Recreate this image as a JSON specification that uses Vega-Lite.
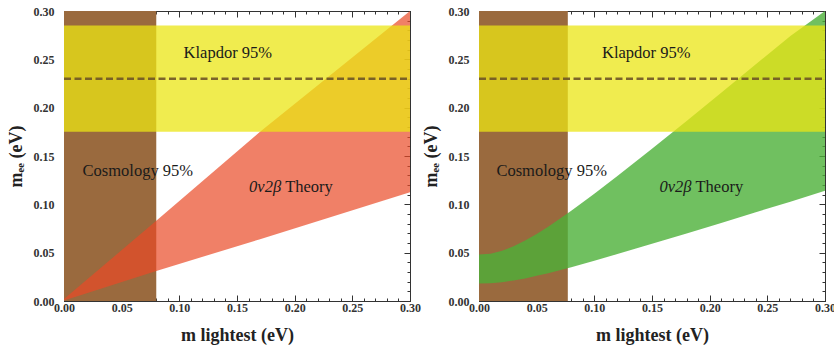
{
  "$schema": "https://vega.github.io/schema/vega-lite/v6.json",
  "padding": {"left": 6, "top": 4, "right": 0, "bottom": 4},
  "background": "white",
  "config": {
    "view": {"stroke": "#333", "strokeWidth": 1},
    "concat": {"spacing": 0},
    "axis": {"grid": false, "labelFlush": false, "labelFont": "Liberation Serif", "labelFontWeight": "bold", "labelFontSize": 12, "labelColor": "#333", "domainColor": "#333", "tickColor": "#333", "titleFont": "Liberation Serif", "titleFontWeight": "bold", "titleFontSize": 18, "titleColor": "#222"}
  },
  "datasets": {
    "cosmology": [
      {"panel": "normal", "x0": 0, "x1": 0.08, "y0": 0, "y1": 0.3},
      {"panel": "inverted", "x0": 0, "x1": 0.077, "y0": 0, "y1": 0.3}
    ],
    "klapdor": [
      {"panel": "normal", "x0": 0, "x1": 0.3, "y0": 0.175, "y1": 0.285, "best": 0.23},
      {"panel": "inverted", "x0": 0, "x1": 0.3, "y0": 0.175, "y1": 0.285, "best": 0.23}
    ],
    "theory": [
      {"panel": "normal", "x": 0, "lo": 0.0005, "hi": 0.002},
      {"panel": "normal", "x": 0.08, "lo": 0.031, "hi": 0.083},
      {"panel": "normal", "x": 0.17, "lo": 0.064, "hi": 0.175},
      {"panel": "normal", "x": 0.3, "lo": 0.1125, "hi": 0.3},
      {"panel": "inverted", "x": 0, "lo": 0.018, "hi": 0.048},
      {"panel": "inverted", "x": 0.01, "lo": 0.0184, "hi": 0.049},
      {"panel": "inverted", "x": 0.02, "lo": 0.0195, "hi": 0.052},
      {"panel": "inverted", "x": 0.03, "lo": 0.0212, "hi": 0.0566},
      {"panel": "inverted", "x": 0.04, "lo": 0.0234, "hi": 0.0625},
      {"panel": "inverted", "x": 0.05, "lo": 0.026, "hi": 0.0693},
      {"panel": "inverted", "x": 0.06, "lo": 0.0288, "hi": 0.0768},
      {"panel": "inverted", "x": 0.08, "lo": 0.035, "hi": 0.0933},
      {"panel": "inverted", "x": 0.1, "lo": 0.0416, "hi": 0.1109},
      {"panel": "inverted", "x": 0.12, "lo": 0.0485, "hi": 0.1292},
      {"panel": "inverted", "x": 0.15, "lo": 0.0591, "hi": 0.1575},
      {"panel": "inverted", "x": 0.18, "lo": 0.0699, "hi": 0.1863},
      {"panel": "inverted", "x": 0.21, "lo": 0.0808, "hi": 0.2154},
      {"panel": "inverted", "x": 0.24, "lo": 0.0918, "hi": 0.2448},
      {"panel": "inverted", "x": 0.27, "lo": 0.1028, "hi": 0.2742},
      {"panel": "inverted", "x": 0.3, "lo": 0.114, "hi": 0.3}
    ],
    "labels": [
      {"panel": "normal", "label": "Klapdor 95%", "x": 0.142, "y": 0.257},
      {"panel": "normal", "label": "Cosmology 95%", "x": 0.064, "y": 0.135},
      {"panel": "normal", "label": "0ν2β", "x": 0.19, "y": 0.118},
      {"panel": "normal", "label": "Theory", "x": 0.19, "y": 0.118},
      {"panel": "inverted", "label": "Klapdor 95%", "x": 0.145, "y": 0.257},
      {"panel": "inverted", "label": "Cosmology 95%", "x": 0.063, "y": 0.134},
      {"panel": "inverted", "label": "0ν2β", "x": 0.186, "y": 0.118},
      {"panel": "inverted", "label": "Theory", "x": 0.186, "y": 0.118}
    ]
  },
  "hconcat": [
    {
      "width": 346, "height": 290,
      "resolve": {"axis": {"x": "independent", "y": "independent"}},
      "layer": [
        {
          "data": {"name": "cosmology"},
          "transform": [{"filter": "datum.panel == 'normal'"}],
          "mark": {"type": "rect", "color": "#9a6a3e", "clip": true},
          "encoding": {
            "x": {"field": "x0", "type": "quantitative", "scale": {"domain": [0, 0.3], "nice": false, "zero": false},
              "axis": {"orient": "bottom", "values": [0, 0.05, 0.1, 0.15, 0.2, 0.25, 0.3], "format": ".2f", "tickSize": -6, "labelPadding": 7, "title": "m lightest (eV)", "titlePadding": 13}},
            "x2": {"field": "x1"},
            "y": {"field": "y0", "type": "quantitative", "scale": {"domain": [0, 0.3], "nice": false, "zero": false},
              "axis": {"orient": "left", "values": [0, 0.05, 0.1, 0.15, 0.2, 0.25, 0.3], "format": ".2f", "tickSize": -6, "labelPadding": 16, "title": "mₑₑ (eV)", "titlePadding": 8}},
            "y2": {"field": "y1"}
          }
        },
        {
          "data": {"name": "theory"},
          "transform": [{"filter": "datum.panel == 'normal'"}],
          "mark": {"type": "area", "color": "#ea4a27", "opacity": 0.7, "clip": true},
          "encoding": {
            "x": {"field": "x", "type": "quantitative", "axis": {"orient": "bottom", "values": [0,0.01,0.02,0.03,0.04,0.05,0.06,0.07,0.08,0.09,0.1,0.11,0.12,0.13,0.14,0.15,0.16,0.17,0.18,0.19,0.2,0.21,0.22,0.23,0.24,0.25,0.26,0.27,0.28,0.29,0.3], "labels": false, "domain": false, "tickSize": -3, "title": null}},
            "y": {"field": "lo", "type": "quantitative", "axis": {"orient": "left", "values": [0,0.01,0.02,0.03,0.04,0.05,0.06,0.07,0.08,0.09,0.1,0.11,0.12,0.13,0.14,0.15,0.16,0.17,0.18,0.19,0.2,0.21,0.22,0.23,0.24,0.25,0.26,0.27,0.28,0.29,0.3], "labels": false, "domain": false, "tickSize": -3, "title": null}},
            "y2": {"field": "hi"}
          }
        },
        {
          "data": {"name": "klapdor"},
          "transform": [{"filter": "datum.panel == 'normal'"}],
          "mark": {"type": "rect", "color": "#ebe614", "opacity": 0.75, "clip": true},
          "encoding": {
            "x": {"field": "x0", "type": "quantitative", "axis": {"orient": "top", "values": [0, 0.05, 0.1, 0.15, 0.2, 0.25, 0.3], "labels": false, "tickSize": -6, "title": null}},
            "x2": {"field": "x1"},
            "y": {"field": "y0", "type": "quantitative", "axis": {"orient": "right", "values": [0, 0.05, 0.1, 0.15, 0.2, 0.25, 0.3], "labels": false, "tickSize": -6, "title": null}},
            "y2": {"field": "y1"}
          }
        },
        {
          "data": {"name": "klapdor"},
          "transform": [{"filter": "datum.panel == 'normal'"}],
          "mark": {"type": "rule", "color": "#6e5526", "strokeWidth": 2.5, "strokeDash": [7, 3.5], "opacity": 0.9},
          "encoding": {
            "x": {"field": "x0", "type": "quantitative", "axis": {"orient": "top", "values": [0,0.01,0.02,0.03,0.04,0.05,0.06,0.07,0.08,0.09,0.1,0.11,0.12,0.13,0.14,0.15,0.16,0.17,0.18,0.19,0.2,0.21,0.22,0.23,0.24,0.25,0.26,0.27,0.28,0.29,0.3], "labels": false, "domain": false, "tickSize": -3, "title": null}},
            "x2": {"field": "x1"},
            "y": {"field": "best", "type": "quantitative", "axis": {"orient": "right", "values": [0,0.01,0.02,0.03,0.04,0.05,0.06,0.07,0.08,0.09,0.1,0.11,0.12,0.13,0.14,0.15,0.16,0.17,0.18,0.19,0.2,0.21,0.22,0.23,0.24,0.25,0.26,0.27,0.28,0.29,0.3], "labels": false, "domain": false, "tickSize": -3, "title": null}}
          }
        },
        {
          "data": {"name": "labels"},
          "transform": [{"filter": "datum.panel == 'normal' && datum.label != '0ν2β' && datum.label != 'Theory'"}],
          "mark": {"type": "text", "font": "Liberation Serif", "fontSize": 16.5, "color": "#1a1a1a", "align": "center", "baseline": "middle"},
          "encoding": {
            "x": {"field": "x", "type": "quantitative", "axis": null},
            "y": {"field": "y", "type": "quantitative", "axis": null},
            "text": {"field": "label"}
          }
        },
        {
          "data": {"name": "labels"},
          "transform": [{"filter": "datum.panel == 'normal' && datum.label == '0ν2β'"}],
          "mark": {"type": "text", "font": "Liberation Serif", "fontSize": 16.5, "fontStyle": "italic", "color": "#1a1a1a", "align": "right", "baseline": "middle", "dx": -2},
          "encoding": {
            "x": {"field": "x", "type": "quantitative", "axis": null},
            "y": {"field": "y", "type": "quantitative", "axis": null},
            "text": {"field": "label"}
          }
        },
        {
          "data": {"name": "labels"},
          "transform": [{"filter": "datum.panel == 'normal' && datum.label == 'Theory'"}],
          "mark": {"type": "text", "font": "Liberation Serif", "fontSize": 16.5, "color": "#1a1a1a", "align": "left", "baseline": "middle", "dx": 2},
          "encoding": {
            "x": {"field": "x", "type": "quantitative", "axis": null},
            "y": {"field": "y", "type": "quantitative", "axis": null},
            "text": {"field": "label"}
          }
        }
      ]
    },
    {
      "width": 346, "height": 290,
      "resolve": {"axis": {"x": "independent", "y": "independent"}},
      "layer": [
        {
          "data": {"name": "cosmology"},
          "transform": [{"filter": "datum.panel == 'inverted'"}],
          "mark": {"type": "rect", "color": "#9a6a3e", "clip": true},
          "encoding": {
            "x": {"field": "x0", "type": "quantitative", "scale": {"domain": [0, 0.3], "nice": false, "zero": false},
              "axis": {"orient": "bottom", "values": [0, 0.05, 0.1, 0.15, 0.2, 0.25, 0.3], "format": ".2f", "tickSize": -6, "labelPadding": 7, "title": "m lightest (eV)", "titlePadding": 13}},
            "x2": {"field": "x1"},
            "y": {"field": "y0", "type": "quantitative", "scale": {"domain": [0, 0.3], "nice": false, "zero": false},
              "axis": {"orient": "left", "values": [0, 0.05, 0.1, 0.15, 0.2, 0.25, 0.3], "format": ".2f", "tickSize": -6, "labelPadding": 16, "title": "mₑₑ (eV)", "titlePadding": 8}},
            "y2": {"field": "y1"}
          }
        },
        {
          "data": {"name": "theory"},
          "transform": [{"filter": "datum.panel == 'inverted'"}],
          "mark": {"type": "area", "color": "#4cb038", "opacity": 0.8, "clip": true},
          "encoding": {
            "x": {"field": "x", "type": "quantitative", "axis": {"orient": "bottom", "values": [0,0.01,0.02,0.03,0.04,0.05,0.06,0.07,0.08,0.09,0.1,0.11,0.12,0.13,0.14,0.15,0.16,0.17,0.18,0.19,0.2,0.21,0.22,0.23,0.24,0.25,0.26,0.27,0.28,0.29,0.3], "labels": false, "domain": false, "tickSize": -3, "title": null}},
            "y": {"field": "lo", "type": "quantitative", "axis": {"orient": "left", "values": [0,0.01,0.02,0.03,0.04,0.05,0.06,0.07,0.08,0.09,0.1,0.11,0.12,0.13,0.14,0.15,0.16,0.17,0.18,0.19,0.2,0.21,0.22,0.23,0.24,0.25,0.26,0.27,0.28,0.29,0.3], "labels": false, "domain": false, "tickSize": -3, "title": null}},
            "y2": {"field": "hi"}
          }
        },
        {
          "data": {"name": "klapdor"},
          "transform": [{"filter": "datum.panel == 'inverted'"}],
          "mark": {"type": "rect", "color": "#ebe614", "opacity": 0.75, "clip": true},
          "encoding": {
            "x": {"field": "x0", "type": "quantitative", "axis": {"orient": "top", "values": [0, 0.05, 0.1, 0.15, 0.2, 0.25, 0.3], "labels": false, "tickSize": -6, "title": null}},
            "x2": {"field": "x1"},
            "y": {"field": "y0", "type": "quantitative", "axis": {"orient": "right", "values": [0, 0.05, 0.1, 0.15, 0.2, 0.25, 0.3], "labels": false, "tickSize": -6, "title": null}},
            "y2": {"field": "y1"}
          }
        },
        {
          "data": {"name": "klapdor"},
          "transform": [{"filter": "datum.panel == 'inverted'"}],
          "mark": {"type": "rule", "color": "#6e5526", "strokeWidth": 2.5, "strokeDash": [7, 3.5], "opacity": 0.9},
          "encoding": {
            "x": {"field": "x0", "type": "quantitative", "axis": {"orient": "top", "values": [0,0.01,0.02,0.03,0.04,0.05,0.06,0.07,0.08,0.09,0.1,0.11,0.12,0.13,0.14,0.15,0.16,0.17,0.18,0.19,0.2,0.21,0.22,0.23,0.24,0.25,0.26,0.27,0.28,0.29,0.3], "labels": false, "domain": false, "tickSize": -3, "title": null}},
            "x2": {"field": "x1"},
            "y": {"field": "best", "type": "quantitative", "axis": {"orient": "right", "values": [0,0.01,0.02,0.03,0.04,0.05,0.06,0.07,0.08,0.09,0.1,0.11,0.12,0.13,0.14,0.15,0.16,0.17,0.18,0.19,0.2,0.21,0.22,0.23,0.24,0.25,0.26,0.27,0.28,0.29,0.3], "labels": false, "domain": false, "tickSize": -3, "title": null}}
          }
        },
        {
          "data": {"name": "labels"},
          "transform": [{"filter": "datum.panel == 'inverted' && datum.label != '0ν2β' && datum.label != 'Theory'"}],
          "mark": {"type": "text", "font": "Liberation Serif", "fontSize": 16.5, "color": "#1a1a1a", "align": "center", "baseline": "middle"},
          "encoding": {
            "x": {"field": "x", "type": "quantitative", "axis": null},
            "y": {"field": "y", "type": "quantitative", "axis": null},
            "text": {"field": "label"}
          }
        },
        {
          "data": {"name": "labels"},
          "transform": [{"filter": "datum.panel == 'inverted' && datum.label == '0ν2β'"}],
          "mark": {"type": "text", "font": "Liberation Serif", "fontSize": 16.5, "fontStyle": "italic", "color": "#1a1a1a", "align": "right", "baseline": "middle", "dx": -2},
          "encoding": {
            "x": {"field": "x", "type": "quantitative", "axis": null},
            "y": {"field": "y", "type": "quantitative", "axis": null},
            "text": {"field": "label"}
          }
        },
        {
          "data": {"name": "labels"},
          "transform": [{"filter": "datum.panel == 'inverted' && datum.label == 'Theory'"}],
          "mark": {"type": "text", "font": "Liberation Serif", "fontSize": 16.5, "color": "#1a1a1a", "align": "left", "baseline": "middle", "dx": 2},
          "encoding": {
            "x": {"field": "x", "type": "quantitative", "axis": null},
            "y": {"field": "y", "type": "quantitative", "axis": null},
            "text": {"field": "label"}
          }
        }
      ]
    }
  ]
}
